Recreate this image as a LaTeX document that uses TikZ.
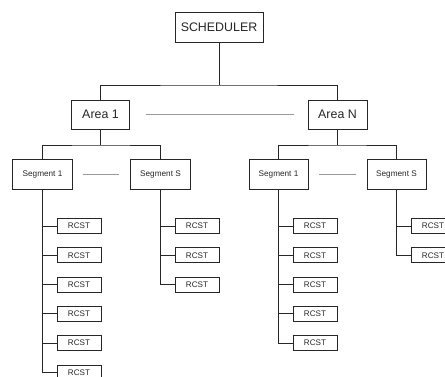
\documentclass[tikz,border=0pt]{standalone}
\usepackage{fontspec}
\setmainfont{Liberation Sans}
\begin{document}
\begin{tikzpicture}[x=1pt,y=-1pt,
  line/.style={draw=black!85,line width=0.9pt},
  box/.style={rectangle,draw=black!85,line width=0.9pt,fill=white,inner sep=0pt,text=black!85},
  bigbox/.style={box,font=\fontsize{12.4}{14}\selectfont},
  segbox/.style={box,minimum width=59pt,minimum height=30pt,font=\fontsize{8.2}{10}\selectfont},
  rcst/.style={box,minimum width=44pt,minimum height=15pt,font=\fontsize{8.1}{10}\selectfont},
  dotline/.style={draw=black!40,line width=0.6pt,dash pattern=on 0.4pt off 0.6pt}]
\clip (0,0) rectangle (445,377);
\fill[white] (0,0) rectangle (445,377);
% top
\node[bigbox,minimum width=88pt,minimum height=30pt] (sched) at (219,27) {SCHEDULER};
\node[bigbox,minimum width=58pt,minimum height=29pt] (a1) at (100.5,114.5) {Area 1};
\node[bigbox,minimum width=59pt,minimum height=29pt] (aN) at (337.5,114.5) {Area N};
\coordinate (j0) at (219,85);
\draw[line] (sched.south) -- (j0);
\draw[line] (a1.north) |- (j0) -| (aN.north);
\draw[dotline] ([xshift=16pt]a1.east) -- ([xshift=-14pt]aN.west);
% segments
\node[segbox,minimum width=60pt] (s11) at (42.5,174) {Segment 1};
\node[segbox,minimum width=60pt] (s1S) at (160.5,174) {Segment S};
\node[segbox] (sN1) at (278.5,174) {Segment 1};
\node[segbox] (sNS) at (396.5,174) {Segment S};
\coordinate (j1) at (100.5,145);
\coordinate (j2) at (337.5,145);
\draw[line] (a1.south) -- (j1);
\draw[line] (s11.north) |- (j1) -| (s1S.north);
\draw[line] (aN.south) -- (j2);
\draw[line] (sN1.north) |- (j2) -| (sNS.north);
\draw[dotline] ([xshift=10pt]s11.east) -- ([xshift=-12pt]s1S.west);
\draw[dotline] ([xshift=11pt]sN1.east) -- ([xshift=-11pt]sNS.west);
% RCSTs
\foreach \i/\y in {1/226,2/255.3,3/284.6,4/313.9,5/343.2,6/372.5}{
  \node[rcst] (ra\i) at (79,\y) {RCST};
}
\foreach \i/\y in {1/226,2/255.3,3/284.6}{
  \node[rcst] (rb\i) at (197,\y) {RCST};
}
\foreach \i/\y in {1/226,2/255.3,3/284.6,4/313.9,5/343.2}{
  \node[rcst] (rc\i) at (315,\y) {RCST};
}
\foreach \i/\y in {1/226,2/255.3}{
  \node[rcst] (rd\i) at (433,\y) {RCST};
}
\draw[line] (s11.south) |- (ra6.west);
\foreach \i in {1,...,5}{\draw[line] (s11.south |- ra\i.west) -- (ra\i.west);}
\draw[line] (s1S.south) |- (rb3.west);
\foreach \i in {1,2}{\draw[line] (s1S.south |- rb\i.west) -- (rb\i.west);}
\draw[line] (sN1.south) |- (rc5.west);
\foreach \i in {1,...,4}{\draw[line] (sN1.south |- rc\i.west) -- (rc\i.west);}
\draw[line] (sNS.south) |- (rd2.west);
\draw[line] (sNS.south |- rd1.west) -- (rd1.west);
\end{tikzpicture}
\end{document}
